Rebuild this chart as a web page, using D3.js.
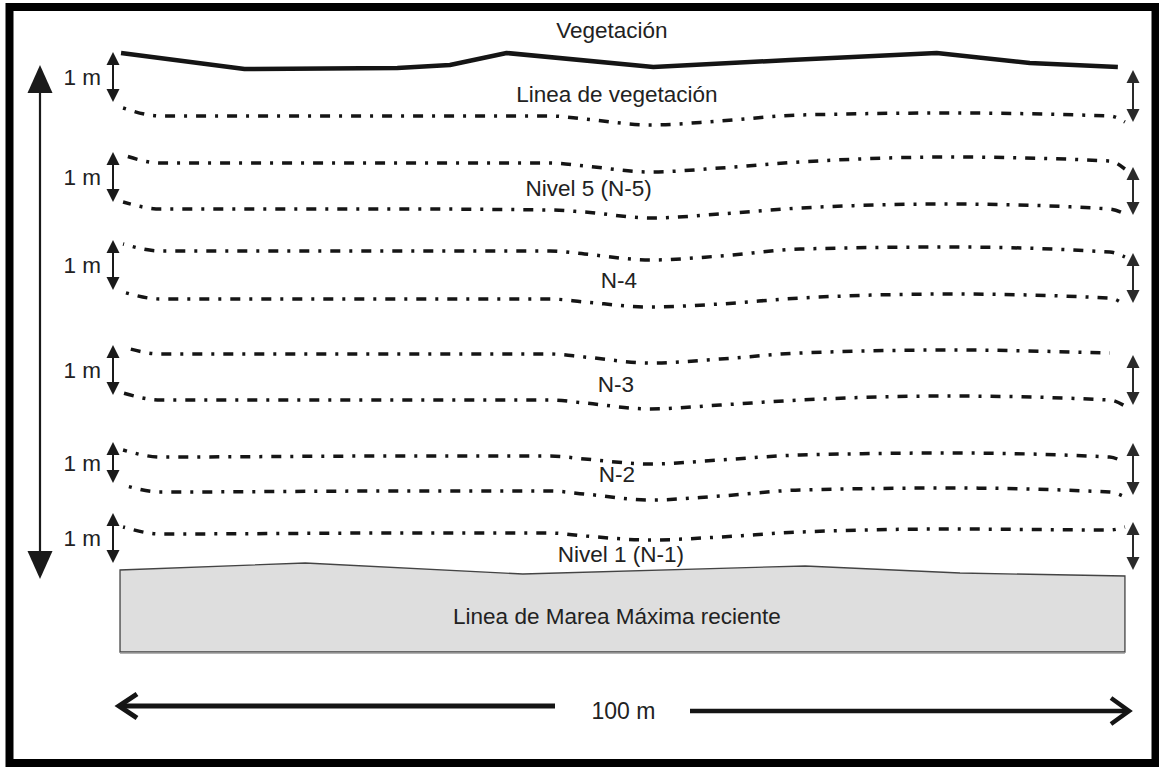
<!DOCTYPE html>
<html>
<head>
<meta charset="utf-8">
<script src="https://cdn.jsdelivr.net/npm/d3@7"></script>
<style>
  html, body { margin: 0; padding: 0; background: #fff; }
  svg { display: block; }
  text { font-family: "Liberation Sans", Arial, sans-serif; fill: #222; }
</style>
</head>
<body>
<svg id="chart" width="1159" height="769"></svg>
<script>
// ---------- DATA ----------
// distance along the beach, metres
const stations = [0.5, 4.2, 27.9, 42.7, 46.1, 52.6, 59.5, 67.4, 82.2, 98.0, 99.5];
// dash-dot level lines: vertical profile values at each station
const lineVegetacion = [108, 116, 116, 116, 119, 125, 121, 115, 113, 116, 122];
const lineN5Top      = [155, 163, 163, 163, 166, 172, 168, 162, 157, 161, 169];
const lineN5Bottom   = [202, 209, 209, 210, 212, 218, 214, 208, 204, 209, 214];
const lineN4Top      = [244, 251, 251, 251, 254, 260, 256, 249, 247, 252, 257];
const lineN4Bottom   = [292, 299, 299, 299, 302, 307, 304, 298, 294, 298, 305];
const lineN3Top      = [347, 354, 354, 354, 357, 363, 359, 353, 350, 353, 353];
const lineN3Bottom   = [393, 400, 400, 400, 403, 409, 405, 400, 396, 400, 406];
const lineN2Top      = [450, 457, 456, 456, 459, 464, 460, 455, 453, 457, 463];
const lineN2Bottom   = [485, 492, 491, 491, 494, 500, 496, 490, 488, 492, 497];
const lineN1         = [527, 534, 533, 533, 536, 540, 537, 532, 529, 530, 527];

// vegetation (solid) line
const vegX = [0.3, 12.5, 27.6, 32.8, 38.4, 52.9, 66.4, 80.9, 90.1, 98.8];
const vegY = [53, 69, 68, 65, 53, 67, 60, 53, 63, 67];

// high-tide box top edge
const tideX = [0.2, 18.5, 40.0, 67.9, 83.2, 99.5];
const tideY = [570, 563, 574, 566, 573, 576];
const tideBottom = 652;

// 1 m double arrows (left and right) : [top, bottom]
const leftArrows  = [[52, 102], [152, 202], [240, 290], [345, 395], [442, 483], [513, 563]];
const rightArrows = [[70, 122], [167, 215], [253, 303], [355, 405], [443, 495], [522, 570]];
const arrowLabel = "1 m";

// labels
const labelTexts = ["Vegetación", "Linea de vegetación", "Nivel 5 (N-5)", "N-4", "N-3", "N-2", "Nivel 1 (N-1)", "Linea de Marea Máxima reciente"];
const labelX = [48.8, 49.3, 46.5, 49.5, 49.2, 49.3, 49.7, 49.3];
const labelY = [38, 102, 196, 288, 392, 482, 562, 624];
const scaleLabel = "100 m";
const scaleDistance = [0, 100];

// ---------- SCALES ----------
const svg = d3.select("#chart");
const x = d3.scaleLinear().domain(scaleDistance).range([118, 1130]);
const y = d3.scaleLinear().domain([0, 769]).range([0, 769]);

const ink = "#151515";

// frame
svg.append("rect")
  .attr("x", 9.5).attr("y", 7).attr("width", 1146).attr("height", 756)
  .attr("fill", "none").attr("stroke", "#000").attr("stroke-width", 8);

// high tide box
const tidePts = tideX.map((d, i) => [x(d), y(tideY[i])]);
const boxPath = d3.path();
boxPath.moveTo(x(tideX[0]), y(tideBottom));
tidePts.forEach(p => boxPath.lineTo(p[0], p[1]));
boxPath.lineTo(x(tideX[tideX.length - 1]), y(tideBottom));
boxPath.closePath();
svg.append("path").attr("d", boxPath.toString())
  .attr("fill", "#dedede").attr("stroke", "#444").attr("stroke-width", 1.3);
svg.append("line")
  .attr("x1", x(tideX[0])).attr("x2", x(tideX[tideX.length - 1]))
  .attr("y1", y(tideBottom) + 1).attr("y2", y(tideBottom) + 1)
  .attr("stroke", "#999").attr("stroke-width", 1.5);

// vegetation line
const lineGen = d3.line().x(d => x(d[0])).y(d => y(d[1]));
svg.append("path")
  .attr("d", lineGen(vegX.map((d, i) => [d, vegY[i]])))
  .attr("fill", "none").attr("stroke", ink).attr("stroke-width", 4.5)
  .attr("stroke-linejoin", "round");

// dash-dot level lines
const levels = [lineVegetacion, lineN5Top, lineN5Bottom, lineN4Top, lineN4Bottom,
                lineN3Top, lineN3Bottom, lineN2Top, lineN2Bottom, lineN1];
const curveGen = d3.line().x(d => x(d[0])).y(d => y(d[1])).curve(d3.curveMonotoneX);
levels.forEach((vals, k) => {
  const pts = stations.map((s, i) => [s, vals[i]]);
  const usePts = (vals === lineN3Top) ? pts.slice(0, pts.length - 1) : pts;
  svg.append("path")
    .attr("d", curveGen(usePts))
    .attr("fill", "none").attr("stroke", ink).attr("stroke-width", 3.5)
    .attr("stroke-dasharray", "3 9 10 9")
    .attr("stroke-dashoffset", (k * 7) % 31);
});

// double arrows
function doubleArrow(cx, top, bottom, head, hw, color, sw) {
  const g = svg.append("g");
  g.append("line").attr("x1", cx).attr("x2", cx)
    .attr("y1", top + head - 2).attr("y2", bottom - head + 2)
    .attr("stroke", color).attr("stroke-width", sw);
  g.append("path")
    .attr("d", `M${cx},${top} L${cx - hw},${top + head} L${cx + hw},${top + head} Z`)
    .attr("fill", color);
  g.append("path")
    .attr("d", `M${cx},${bottom} L${cx - hw},${bottom - head} L${cx + hw},${bottom - head} Z`)
    .attr("fill", color);
}
leftArrows.forEach(a => {
  doubleArrow(113, y(a[0]), y(a[1]), 13, 6.5, "#1a1a1a", 2);
  svg.append("text").attr("x", 101).attr("y", (y(a[0]) + y(a[1])) / 2 + 8)
    .attr("text-anchor", "end").attr("font-size", 22.5).text(arrowLabel);
});
rightArrows.forEach(a => {
  doubleArrow(1133, y(a[0]), y(a[1]), 13, 6.5, "#2a2a2a", 2);
});

// big vertical arrow
doubleArrow(40, 65, 579, 28, 12.5, "#1a1a1a", 2.2);

// labels
labelTexts.forEach((t, i) => {
  svg.append("text").attr("x", x(labelX[i])).attr("y", y(labelY[i]))
    .attr("text-anchor", "middle").attr("font-size", 22.5).text(t);
});

// 100 m scale bar
const barY1 = 706, barY2 = 711;
svg.append("line").attr("x1", x(scaleDistance[0]) + 2).attr("x2", 555)
  .attr("y1", barY1).attr("y2", barY1).attr("stroke", ink).attr("stroke-width", 5);
svg.append("path")
  .attr("d", `M${x(scaleDistance[0]) + 19},${barY1 - 12} L${x(scaleDistance[0]) + 1},${barY1} L${x(scaleDistance[0]) + 19},${barY1 + 12}`)
  .attr("fill", "none").attr("stroke", ink).attr("stroke-width", 5).attr("stroke-linejoin", "miter");
svg.append("line").attr("x1", 690).attr("x2", x(scaleDistance[1]) - 2)
  .attr("y1", barY2).attr("y2", barY2).attr("stroke", ink).attr("stroke-width", 4.5);
svg.append("path")
  .attr("d", `M${x(scaleDistance[1]) - 19},${barY2 - 13} L${x(scaleDistance[1]) - 1},${barY2} L${x(scaleDistance[1]) - 19},${barY2 + 13}`)
  .attr("fill", "none").attr("stroke", ink).attr("stroke-width", 4.5).attr("stroke-linejoin", "miter");
svg.append("text").attr("x", x(49.95)).attr("y", 719)
  .attr("text-anchor", "middle").attr("font-size", 23).text(scaleLabel);
</script>
</body>
</html>
